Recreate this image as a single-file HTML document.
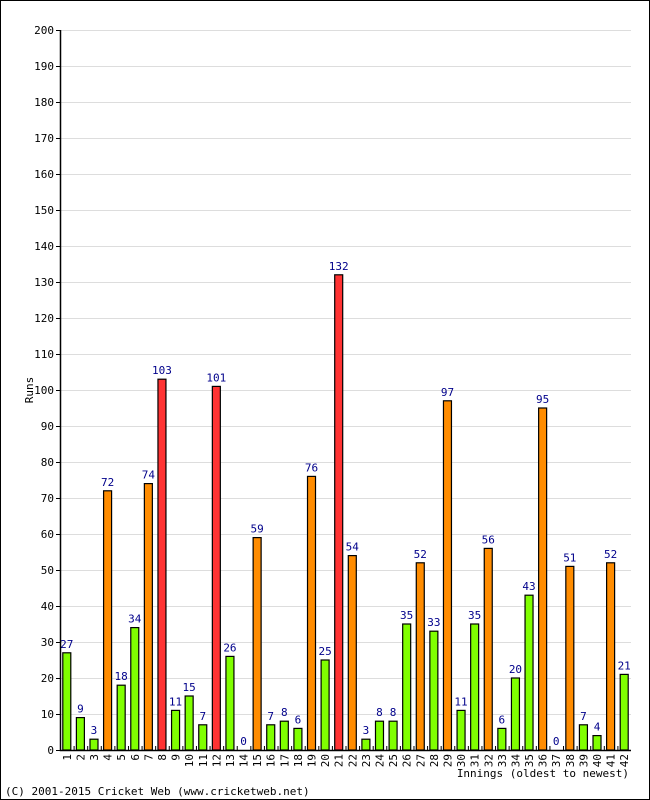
<!DOCTYPE html>
<html><head><meta charset="utf-8"><style>
body{margin:0;background:#fff}
svg{display:block;font-family:"DejaVu Sans Mono","Liberation Mono",monospace}
</style></head><body>
<svg id="c" width="650" height="800">
<rect x="0.5" y="0.5" width="649" height="799" fill="#fff" stroke="#000"/>
<g id="grid"></g><g id="bars"></g><g id="axes"></g>
<text x="33" y="390" font-size="11" text-anchor="middle" transform="rotate(-90 33 390)">Runs</text>
<text x="629" y="777" font-size="11" text-anchor="end">Innings (oldest to newest)</text>
<text x="5" y="795" font-size="11">(C) 2001-2015 Cricket Web (www.cricketweb.net)</text>
</svg>
<script>
const innings=[1,2,3,4,5,6,7,8,9,10,11,12,13,14,15,16,17,18,19,20,21,22,23,24,25,26,27,28,29,30,31,32,33,34,35,36,37,38,39,40,41,42];
const runs=[27,9,3,72,18,34,74,103,11,15,7,101,26,0,59,7,8,6,76,25,132,54,3,8,8,35,52,33,97,11,35,56,6,20,43,95,0,51,7,4,52,21];
const yTicks=[0,10,20,30,40,50,60,70,80,90,100,110,120,130,140,150,160,170,180,190,200];
const NS="http://www.w3.org/2000/svg";
const X0=60,X1=631,Y0=750,Y1=30,YMAX=200;
const slot=(X1-X0)/innings.length;
const y=v=>Y0-(v/YMAX)*(Y0-Y1);
const x=i=>X0+i*slot;
function mk(t,a,p){const e=document.createElementNS(NS,t);for(const k in a)e.setAttribute(k,a[k]);p.appendChild(e);return e;}
const G=document.getElementById('grid'),B=document.getElementById('bars'),A=document.getElementById('axes');
yTicks.forEach(v=>{
 if(v>0){const l=mk('line',{x1:X0,x2:X1,y1:y(v)+.5,y2:y(v)+.5,stroke:'#ddd'},G);
 
 }
 const tk=mk('line',{x1:X0-4,x2:X0,y1:y(v)+.5,y2:y(v)+.5,stroke:'#000'},A);
 
 
 const t=mk('text',{x:X0-6,y:y(v)+4,'font-size':11,'text-anchor':'end'},A);t.textContent=v;
 
 
});
runs.forEach((r,i)=>{
 const cx=x(i)+slot/2;
 const col=r>=100?'#ff3333':(r>=50?'#ff8c00':'#80ff00');
 if(r>0){const b=mk('rect',{x:cx-4,y:y(r),width:8,height:Y0-y(r),fill:col,stroke:'#000','stroke-width':1.2},B);
 
 }
 const t=mk('text',{x:cx,y:y(r)-5,'font-size':11,fill:'#00008b','text-anchor':'middle'},B);t.textContent=r;
 
 
 const tk=mk('line',{x1:x(i)+.5,x2:x(i)+.5,y1:Y0-4,y2:Y0,stroke:'#000'},A);
 
 
 const lx=cx+4,ly=Y0+4;
 const xl=mk('text',{x:lx,y:ly,'font-size':11,'text-anchor':'end',transform:`rotate(-90 ${lx} ${ly})`},A);xl.textContent=innings[i];
 
 
});
const ax=mk('path',{d:`M${X0+.5} ${Y1} V${Y0+.5} H${X1}`,stroke:'#000',fill:'none','stroke-width':1.5},A);


</script>
</body></html>
